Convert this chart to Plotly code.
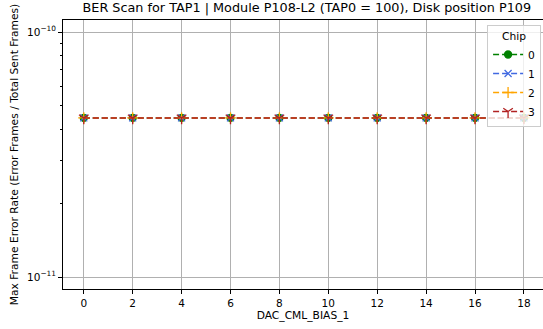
import plotly.graph_objects as go

x_vals = [0, 2, 4, 6, 8, 10, 12, 14, 16, 18]
chips = ["0", "1", "2", "3"]
ber_chip0 = [4.46e-11] * 10
ber_chip1 = [4.46e-11] * 10
ber_chip2 = [4.46e-11] * 10
ber_chip3 = [4.46e-11] * 10
series = [ber_chip0, ber_chip1, ber_chip2, ber_chip3]

colors = ["green", "royalblue", "orange", "firebrick"]
symbols = ["circle", "x-thin-open", "cross-thin-open", "y-down-open"]
sizes = [7, 7, 8, 8]

FONT = "DejaVu Sans"
fig = go.Figure()
for name, ys, c, s, sz in zip(chips, series, colors, symbols, sizes):
    fig.add_trace(go.Scatter(
        x=x_vals, y=ys, name=name, mode="lines+markers",
        line=dict(color=c, width=1.5, dash="6px,3px"),
        marker=dict(symbol=s, size=sz, color=c, line=dict(color=c, width=1.3)),
    ))

minor_vals = [k * 1e-11 for k in range(2, 10)]
fig.update_layout(
    width=543, height=329,
    margin=dict(l=63, r=0, t=20, b=40),
    paper_bgcolor="white", plot_bgcolor="white",
    font=dict(family=FONT, size=10.5, color="black"),
    title=dict(text="BER Scan for TAP1 | Module P108-L2 (TAP0 = 100), Disk position P109",
               x=0.565, xanchor="center", y=0.99, yanchor="top",
               font=dict(size=12.8, family=FONT)),
    xaxis=dict(
        range=[-0.85, 18.78], tickvals=x_vals, ticks="outside", ticklen=4,
        tickcolor="black", showline=True, linecolor="black", linewidth=1, mirror=True,
        showgrid=True, gridcolor="#b0b0b0", gridwidth=1, zeroline=False,
        title=dict(text="DAC_CML_BIAS_1", standoff=3, font=dict(size=10.7)),
    ),
    yaxis=dict(
        type="log", range=[-11.049, -9.951],
        tickvals=[1e-11, 1e-10], ticktext=["10<sup>−11</sup>", "10<sup>−10</sup>"],
        ticks="outside", ticklen=4, tickcolor="black",
        showline=True, linecolor="black", linewidth=1, mirror=False,
        showgrid=True, gridcolor="#b0b0b0", gridwidth=1, zeroline=False,
        minor=dict(tickvals=minor_vals, ticks="outside", ticklen=2, tickcolor="black", showgrid=False),
        title=dict(text="Max Frame Error Rate (Error Frames / Total Sent Frames)", standoff=6,
                   font=dict(size=10.7)),
    ),
    legend=dict(
        title=dict(text="Chip", side="top center", font=dict(size=10.7)),
        x=0.996, xanchor="right", y=0.981, yanchor="top",
        bgcolor="rgba(255,255,255,0.8)", bordercolor="#cccccc", borderwidth=1,
        itemwidth=30, tracegroupgap=0, font=dict(size=10.7),
    ),
)

fig.write_html("out.html", config={"displayModeBar": False},
               post_script="document.body.style.margin='0';document.body.style.overflow='hidden';")
